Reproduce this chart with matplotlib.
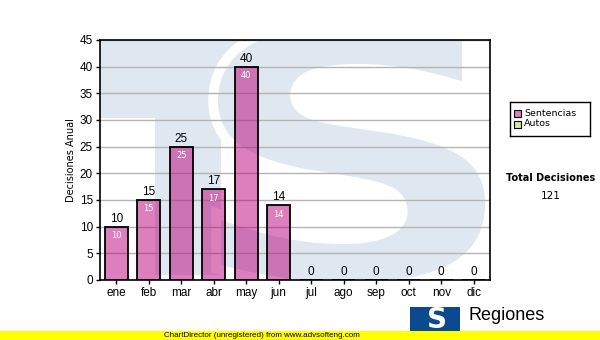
import matplotlib
matplotlib.use("Agg")
import matplotlib.pyplot as plt
from matplotlib.patches import Rectangle, PathPatch
from matplotlib.textpath import TextPath
from matplotlib.font_manager import FontProperties
from matplotlib.transforms import Affine2D

months = ["ene", "feb", "mar", "abr", "may", "jun", "jul", "ago", "sep", "oct", "nov", "dic"]
sentencias = [10, 15, 25, 17, 40, 14, 0, 0, 0, 0, 0, 0]
legend_labels = ["Sentencias", "Autos"]
yticks = [0, 5, 10, 15, 20, 25, 30, 35, 40, 45]
total_label = "Total Decisiones"
total_value = "121"

W, H = 600, 340
fig = plt.figure(figsize=(W / 100, H / 100), dpi=100)
fig.patch.set_facecolor("white")

def fx(px):
    return px / W

def fy(py):
    return 1 - py / H

ax = fig.add_axes([fx(100), fy(280), fx(390), 240 / H])
ax.set_facecolor("white")

wm = "#dfe8f1"
# watermark: T top band and stem
ax.add_patch(Rectangle((0, 0.675), 0.45, 0.325, transform=ax.transAxes, facecolor=wm, edgecolor="none", zorder=0))
ax.add_patch(Rectangle((0.141, 0.02), 0.17, 0.66, transform=ax.transAxes, facecolor=wm, edgecolor="none", zorder=0))
# watermark S
tp = TextPath((0, 0), "S", prop=FontProperties(family="DejaVu Sans", weight="bold"))
ext = tp.get_extents()
x0, y0, x1, y1 = 0.29, -0.03, 1.0, 1.08
tr = Affine2D().translate(-ext.x0, -ext.y0).scale((x1 - x0) / ext.width, (y1 - y0) / ext.height).translate(x0, y0)
sp = PathPatch(tr.transform_path(tp), transform=ax.transAxes, facecolor=wm, edgecolor="white", lw=7, zorder=0.5)
ax.add_patch(sp)
sp.set_clip_path(ax.patch)

x = list(range(len(months)))
ax.bar(x, sentencias, width=0.72, color=(187 / 255, 0, 123 / 255, 0.5), edgecolor="black", linewidth=1.3, zorder=3)

for xi, v in zip(x, sentencias):
    ax.text(xi, v + 0.4, str(v), ha="center", va="bottom", fontsize=8.5, color="black",
            family="Liberation Sans", zorder=4)
    if v > 0:
        ax.text(xi, v - 0.8, str(v), ha="center", va="top", fontsize=6, color="white",
                family="DejaVu Sans", zorder=4)

ax.set_xlim(-0.5, 11.5)
ax.set_ylim(0, 45)
ax.set_yticks(yticks)
ax.set_xticks(x)
ax.set_xticklabels(months)
ax.yaxis.grid(True, color="#b4b4b4", linewidth=1, zorder=1)
ax.set_axisbelow(False)
for gl in ax.get_ygridlines():
    gl.set_zorder(1)
for lab in ax.get_xticklabels() + ax.get_yticklabels():
    lab.set_family("Liberation Sans")
    lab.set_fontsize(8.5)
ax.tick_params(axis="both", length=3, width=1, direction="out", pad=2)
for s in ax.spines.values():
    s.set_color("black")
    s.set_linewidth(1.2)
    s.set_zorder(5)
ax.set_ylabel("Decisiones Anual", fontsize=7, family="DejaVu Sans", labelpad=3)

# legend
lax = fig.add_axes([fx(510), fy(136), fx(80), 34 / H])
lax.set_xlim(0, 80)
lax.set_ylim(34, 0)
lax.set_xticks([])
lax.set_yticks([])
for s in lax.spines.values():
    s.set_color("black")
    s.set_linewidth(1)
lcolors = ["#df80bd", "#d8e8a2"]
for i, (lab, c) in enumerate(zip(legend_labels, lcolors)):
    yy = 11 + i * 11
    lax.add_patch(Rectangle((4, yy - 3.5), 7, 7, facecolor=c, edgecolor="black", lw=0.8))
    lax.text(14, yy, lab, va="center", ha="left", fontsize=6.8, family="DejaVu Sans")

fig.text(fx(551), fy(178), total_label, ha="center", va="center", fontsize=7, fontweight="bold", family="DejaVu Sans")
fig.text(fx(551), fy(196), total_value, ha="center", va="center", fontsize=7.5, family="DejaVu Sans")

# logo
fig.patches.append(Rectangle((fx(410), fy(331)), fx(50), 24 / H, transform=fig.transFigure, facecolor="#0b4a8e", edgecolor="none"))
fig.text(fx(437), fy(320), "S", ha="center", va="center", fontsize=20, fontweight="bold", color="white", family="DejaVu Sans")
fig.text(fx(469), fy(315), "Regiones", ha="left", va="center", fontsize=13, family="Liberation Sans", color="black")
fig.text(fx(469), fy(336), "Tribunal Supremo de Justicia", ha="left", va="center", fontsize=7, family="Liberation Sans", color="black", zorder=2)

# yellow band
fig.patches.append(Rectangle((0, 0), 1, 9 / H, transform=fig.transFigure, facecolor="#ffff00", edgecolor="none", zorder=10))
fig.text(fx(262), fy(335.5), "ChartDirector (unregistered) from www.advsofteng.com", ha="center", va="center",
         fontsize=5.8, family="Liberation Sans", color="black", zorder=11)

fig.savefig("out.png", dpi=100)
